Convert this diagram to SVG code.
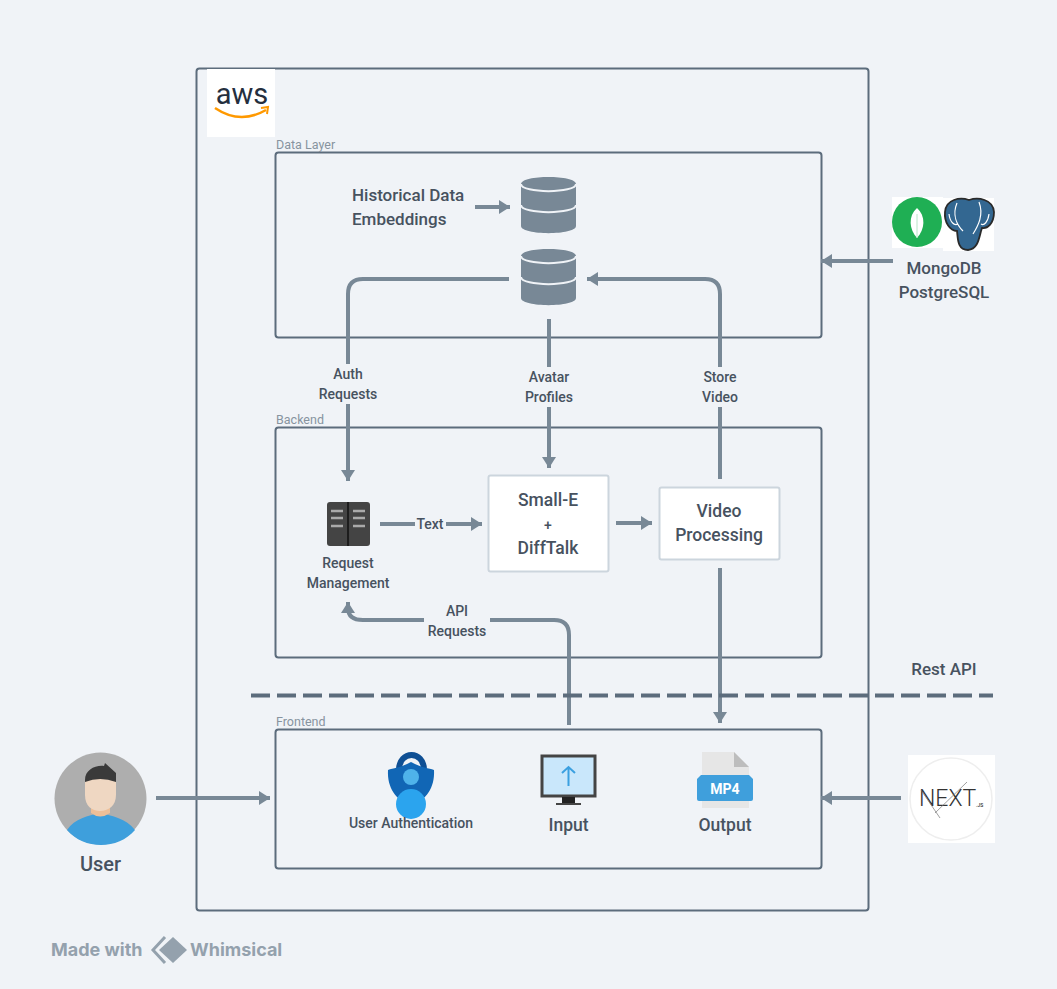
<svg xmlns="http://www.w3.org/2000/svg" width="1057" height="989" viewBox="0 0 1057 989">
<defs>
<marker id="ah" markerUnits="userSpaceOnUse" markerWidth="12" markerHeight="14" refX="11" refY="7" orient="auto"><path d="M0 0L11 7L0 14Z" fill="#788896"/></marker>
<g id="cyl"><path d="M0 7C0-2.500 55-2.500 55 7V49C55 58.500 0 58.500 0 49Z" fill="#788896"/><path d="M0 7C0 16.500 55 16.500 55 7M0 28C0 37.500 55 37.500 55 28" fill="none" stroke="#f0f3f7" stroke-width="2"/></g>
</defs>
<style>
text{font-family:Roboto,"Liberation Sans",sans-serif;fill:#47525f;font-weight:500}
.b{fill:none;stroke:#5c6c7c;stroke-width:2}
.c{fill:none;stroke:#788896;stroke-width:4;marker-end:url(#ah)}
.n{fill:none;stroke:#788896;stroke-width:4}
.t{font-size:17px;text-anchor:middle}
.s{font-size:14px;text-anchor:middle}
.g{font-size:12.500px;fill:#87939f;font-weight:400}
.box{fill:#fff;stroke:#ccd5dd;stroke-width:2}
.m{font-size:17.500px;text-anchor:middle}
</style>
<rect width="1057" height="989" fill="#f0f3f7"/>
<g id="containers">
<rect class="b" x="196.500" y="68.500" width="672" height="842" rx="3"/>
<rect class="b" x="275.500" y="152.500" width="546" height="185" rx="3"/>
<rect class="b" x="275.500" y="427.500" width="546" height="230" rx="3"/>
<rect class="b" x="275.500" y="729.500" width="546" height="139" rx="3"/>
<text class="g" x="276" y="149">Data Layer</text>
<text class="g" x="276" y="424">Backend</text>
<text class="g" x="276" y="726">Frontend</text>
</g>
<g id="connectors">
<path class="c" d="M475 207H510"/>
<path class="n" d="M509 279H363Q348 279 348 294V364"/>
<path class="c" d="M348 404V481"/>
<path class="n" d="M549 319V367"/>
<path class="c" d="M549 407V468"/>
<path class="n" d="M720 479V407"/>
<path class="c" d="M720 367V294Q720 279 705 279H587"/>
<path class="c" d="M893 261H821"/>
<path class="n" d="M380 524H415"/>
<path class="c" d="M446 524H482"/>
<path class="c" d="M616 523H652"/>
<path class="c" d="M720 568V723"/>
<path class="n" d="M569 725V635Q569 620 554 620H490"/>
<path class="c" d="M424 620H363Q348 620 348 608V602"/>
<path class="c" d="M156 798H270"/>
<path class="c" d="M901 798H821"/>
<path d="M251 695.500H993" fill="none" stroke="#5c6c7c" stroke-width="4" stroke-dasharray="19 7"/>
</g>
<g id="aws"><rect x="207" y="69" width="68" height="68" fill="#fff"/>
<text x="242" y="104" font-size="29" text-anchor="middle" style="fill:#252f3e;font-weight:400">aws</text>
<path d="M215 108Q240 125 266 110" fill="none" stroke="#f90" stroke-width="2.500"/><path d="M261 108L268 107L267 114" fill="none" stroke="#f90" stroke-width="2"/></g>
<g id="historical"><text font-size="17" x="352" y="201">Historical Data</text><text font-size="17" x="352" y="225">Embeddings</text></g>
<use id="db1" href="#cyl" x="521" y="177"/>
<use id="db2" href="#cyl" x="521" y="249"/>
<g id="mongodb"><rect x="892" y="197" width="51" height="51" fill="#fff"/><circle cx="917" cy="222" r="25" fill="#1faf54"/><path d="M917 208C908 216 909 229 917 238C925 229 926 216 917 208Z" fill="#fff"/><path d="M917 214V238" stroke="#b8e4c8" stroke-width="1"/></g>
<g id="postgres"><rect x="943" y="198" width="51" height="53" fill="#fff"/><path d="M945 212C946 199 960 197 969 200C978 197 993 199 994 212C994 224 987 229 982 228C979 236 979 249 968 250C957 250 958 238 957 231C950 231 944 222 945 212Z" fill="#336791" stroke="#2a2a2a" stroke-width="1.800"/><path d="M957 203C952 215 957 225 963 231M979 202C984 215 978 226 973 234M949 214C950 222 954 226 958 224M989 214C988 222 984 226 981 224" fill="none" stroke="#fff" stroke-width="1.200"/></g>
<text class="t" x="944" y="274">MongoDB</text>
<text class="t" x="944" y="298">PostgreSQL</text>
<g id="labels"><text class="s" x="348" y="379">Auth</text><text class="s" x="348" y="399">Requests</text>
<text class="s" x="549" y="382">Avatar</text><text class="s" x="549" y="402">Profiles</text>
<text class="s" x="720" y="382">Store</text><text class="s" x="720" y="402">Video</text>
<text class="s" x="430" y="529">Text</text>
<text class="s" x="457" y="616">API</text><text class="s" x="457" y="636">Requests</text>
<text class="t" x="944" y="675">Rest API</text></g>
<g id="request"><rect x="327" y="502" width="43" height="44" rx="3" fill="#444"/><path d="M348 502V546" stroke="#111" stroke-width="1.500"/><path d="M331 511H343M331 518H343M331 526H343M353 511H365M353 518H365M353 526H365" stroke="#aaa" stroke-width="2.500"/>
<text class="s" x="348" y="568">Request</text><text class="s" x="348" y="588">Management</text></g>
<g id="smalle"><rect class="box" x="488.500" y="475.500" width="120" height="96" rx="2"/><text class="m" x="548" y="506">Small-E</text><text class="s" x="548" y="530">+</text><text class="m" x="548" y="554">DiffTalk</text></g>
<g id="video"><rect class="box" x="659.500" y="487.500" width="120" height="72" rx="2"/><text class="m" x="719" y="517">Video</text><text class="m" x="719" y="541">Processing</text></g>
<g id="auth"><path d="M399 770C399 750 424 750 424 770" fill="none" stroke="#0f4f94" stroke-width="6"/><path d="M411 762C400 768 393 768 388 770C387 788 396 800 411 806C426 800 435 788 434 770C429 768 422 768 411 762Z" fill="#1166b5"/><circle cx="411" cy="777" r="8" fill="#4fb3ea"/><circle cx="411" cy="804" r="15" fill="#2ba4ee"/><text class="s" x="411" y="828">User Authentication</text></g>
<g id="input"><rect x="542" y="756" width="53" height="40" fill="#c9e7fb" stroke="#444" stroke-width="3"/><path d="M562 797H575V803H562Z" fill="#222"/><path d="M556 804H581" stroke="#444" stroke-width="2"/><path d="M568.500 786V767M562 773L568.500 767L575 773" fill="none" stroke="#3ba0e0" stroke-width="2"/><text class="m" x="568.500" y="831">Input</text></g>
<g id="output"><path d="M702 752H734L749 767V808H702Z" fill="#e6e6e6"/><path d="M734 752L749 767H734Z" fill="#bdbdbd"/><path d="M701 775H749L753 779V799Q753 801 751 801H699Q697 801 697 799V779Z" fill="#3f9fdc"/><text x="725" y="794" font-size="14" text-anchor="middle" style="fill:#fff;font-weight:700">MP4</text><text class="m" x="725" y="831">Output</text></g>
<g id="user"><circle cx="100.500" cy="798.500" r="46" fill="#aeaeae"/><path d="M67 830C75 818 88 816 100 813C112 816 126 818 135 830C118 850 84 850 67 830Z" fill="#3e9fdc"/><path d="M91 808H110V813Q100 820 91 813Z" fill="#edbf98"/><path d="M85 780C85 770 95 765 104 766L105 763L116 773V783H85Z" fill="#3a3a3a"/><path d="M85 782Q100 776 116 782V795C116 806 108 811 100 811C92 811 85 806 85 795Z" fill="#efd7c2"/><text x="100.500" y="871" font-size="20" text-anchor="middle">User</text></g>
<g id="nextjs"><rect x="908" y="755" width="87" height="88" fill="#fff"/><circle cx="951" cy="799" r="41" fill="#fff" stroke="#eee" stroke-width="1.500"/><text x="919" y="806" font-size="23" style="fill:#333;font-weight:300">NEXT</text><path d="M921 790L940 818M935 813L967 782" fill="none" stroke="#777" stroke-width=".7"/><text x="976" y="807" font-size="5" style="fill:#333">.JS</text></g>
<g id="whimsical"><text x="51" y="956" font-size="18" style="fill:#94a1ad;font-family:Inter,sans-serif;font-weight:700">Made with</text><path d="M165 937L153 950L165 963" fill="none" stroke="#94a1ad" stroke-width="3"/><path d="M173 937L187 950L173 963L159 950Z" fill="#94a1ad"/><text x="190" y="956" font-size="18" style="fill:#94a1ad;font-family:Inter,sans-serif;font-weight:700">Whimsical</text></g>
</svg>
